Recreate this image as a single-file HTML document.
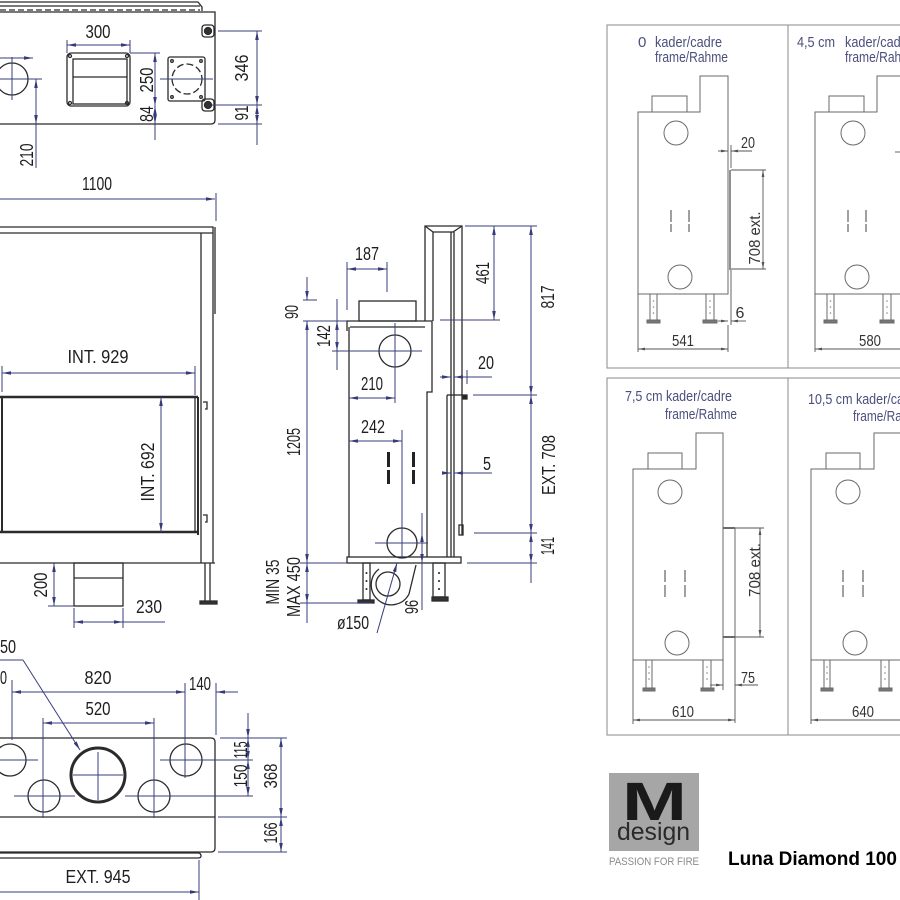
<!DOCTYPE html>
<html><head><meta charset="utf-8"><style>
html,body{margin:0;padding:0;background:#fff;}
svg{display:block;}
text{font-family:"Liberation Sans",sans-serif;}
</style></head><body>
<svg width="900" height="900" viewBox="0 0 900 900" xmlns="http://www.w3.org/2000/svg">
<defs>
<marker id="a" viewBox="0 0 10 4" refX="10" refY="2" markerWidth="9" markerHeight="3.6" markerUnits="userSpaceOnUse" orient="auto-start-reverse"><path d="M0,0L10,2L0,4z" fill="#353a7a"/></marker>
<marker id="g" viewBox="0 0 10 4" refX="10" refY="2" markerWidth="7" markerHeight="2.8" markerUnits="userSpaceOnUse" orient="auto-start-reverse"><path d="M0,0L10,2L0,4z" fill="#555"/></marker>
</defs>
<rect width="900" height="900" fill="#fff"/>

<!-- ================= TOP VIEW ================= -->
<g stroke="#2b2b2b" stroke-width="1.3" fill="none">
  <path d="M0,2 H198 L202,7 V11"/>
  <line x1="0" y1="6" x2="200" y2="6"/>
  <line x1="0" y1="10" x2="200" y2="10" stroke-dasharray="6,3"/>
  <path d="M0,12 H215 V120 Q215,124 211,124 H0"/>
  <circle cx="12" cy="79" r="16"/>
  <rect x="67" y="53" width="63" height="53" rx="4"/>
  <rect x="73" y="59" width="54" height="45"/>
  <line x1="73" y1="77" x2="127" y2="77"/>
  <circle cx="70" cy="56" r="1.5"/><circle cx="127" cy="56" r="1.5"/><circle cx="70" cy="103" r="1.5"/><circle cx="127" cy="103" r="1.5"/>
  <rect x="168" y="57" width="37" height="44" rx="2"/>
  <circle cx="187" cy="79" r="15" stroke-dasharray="7,3"/>
  <circle cx="172" cy="61" r="1.3"/><circle cx="201" cy="61" r="1.3"/><circle cx="172" cy="97" r="1.3"/><circle cx="201" cy="97" r="1.3"/>
  <rect x="202" y="25" width="12" height="12" rx="3"/>
  <circle cx="208" cy="31" r="3.5" fill="#333"/>
  <rect x="202" y="99" width="12" height="12" rx="3"/>
  <circle cx="208" cy="105" r="3.5" fill="#333"/>
</g>
<g stroke="#3a3e7c" stroke-width="1" fill="none">
  <line x1="0" y1="79" x2="42" y2="79"/>
  <line x1="12" y1="57" x2="12" y2="100"/>
  <line x1="0" y1="58" x2="33" y2="58" marker-end="url(#a)"/>
  <line x1="36" y1="79" x2="36" y2="124" marker-start="url(#a)" marker-end="url(#a)"/>
  <line x1="36" y1="124" x2="36" y2="168"/>
  <line x1="67" y1="45" x2="130" y2="45" marker-start="url(#a)" marker-end="url(#a)"/>
  <line x1="67" y1="40" x2="67" y2="53"/><line x1="130" y1="40" x2="130" y2="53"/>
  <line x1="130" y1="53" x2="160" y2="53"/>
  <line x1="155" y1="53" x2="155" y2="106" marker-start="url(#a)" marker-end="url(#a)"/>
  <line x1="155" y1="106" x2="155" y2="124" marker-start="url(#a)" marker-end="url(#a)"/>
  <line x1="155" y1="124" x2="155" y2="140"/>
  <line x1="160" y1="79" x2="213" y2="79"/>
  <line x1="218" y1="31" x2="262" y2="31"/><line x1="212" y1="105" x2="262" y2="105"/><line x1="218" y1="124" x2="262" y2="124"/>
  <line x1="257" y1="31" x2="257" y2="105" marker-start="url(#a)" marker-end="url(#a)"/>
  <line x1="257" y1="105" x2="257" y2="124" marker-start="url(#a)" marker-end="url(#a)"/>
  <line x1="257" y1="124" x2="257" y2="145"/>
</g>

<!-- ================= FRONT VIEW ================= -->
<g stroke="#2b2b2b" stroke-width="1.3" fill="none">
  <path d="M0,227 H213 V233 H0"/>
  <line x1="215" y1="227" x2="215" y2="314"/>
  <line x1="213" y1="233" x2="213" y2="563"/>
  <line x1="201" y1="233" x2="201" y2="563"/>
  <line x1="0" y1="397" x2="198" y2="397" stroke-width="2.5"/>
  <line x1="0" y1="532" x2="198" y2="532" stroke-width="2.5"/>
  <line x1="2" y1="397" x2="2" y2="532" stroke-width="2"/>
  <line x1="195" y1="397" x2="195" y2="532"/>
  <line x1="198" y1="397" x2="198" y2="535" stroke-width="2"/>
  <path d="M203,402 H207 V409 H205"/>
  <path d="M203,515 H207 V522 H205"/>
  <line x1="0" y1="563" x2="215" y2="563"/>
  <line x1="205" y1="563" x2="205" y2="601"/><line x1="210" y1="563" x2="210" y2="601"/>
  <rect x="200" y="601" width="17" height="3" fill="#333"/>
  <rect x="74" y="563" width="49" height="43"/>
  <line x1="74" y1="578" x2="123" y2="578"/>
</g>
<g stroke="#3a3e7c" stroke-width="1" fill="none">
  <line x1="0" y1="199" x2="215" y2="199" marker-end="url(#a)"/>
  <line x1="216" y1="193" x2="216" y2="221"/>
  <line x1="2" y1="373" x2="195" y2="373" marker-start="url(#a)" marker-end="url(#a)"/>
  <line x1="2" y1="366" x2="2" y2="392"/><line x1="195" y1="366" x2="195" y2="395"/>
  <line x1="161" y1="397" x2="161" y2="532" marker-start="url(#a)" marker-end="url(#a)"/>
  <line x1="54" y1="563" x2="54" y2="606" marker-start="url(#a)" marker-end="url(#a)"/>
  <line x1="48" y1="606" x2="74" y2="606"/>
  <line x1="74" y1="622" x2="123" y2="622" marker-start="url(#a)" marker-end="url(#a)"/>
  <line x1="123" y1="622" x2="165" y2="622"/>
  <line x1="74" y1="608" x2="74" y2="628"/><line x1="123" y1="608" x2="123" y2="628"/>
</g>

<!-- ================= SIDE VIEW ================= -->
<g stroke="#2b2b2b" stroke-width="1.3" fill="none">
  <path d="M425,321 V226 H462 V395"/>
  <path d="M425,226 L433,232 H453 L462,226"/>
  <line x1="433" y1="232" x2="433" y2="321"/>
  <line x1="451" y1="232" x2="451" y2="557"/>
  <line x1="454" y1="232" x2="454" y2="557"/>
  <line x1="447" y1="395" x2="447" y2="557"/>
  <line x1="447" y1="395" x2="462" y2="395"/>
  <line x1="462" y1="395" x2="462" y2="535"/>
  <rect x="459" y="525" width="4" height="10"/>
  <rect x="463" y="395" width="4" height="4" fill="#222"/>
  <path d="M347,331 V321 H432 V392 H427 V557"/>
  <line x1="350" y1="327" x2="425" y2="327"/>
  <line x1="349" y1="327" x2="349" y2="557"/>
  <rect x="359" y="301" width="57" height="20"/>
  <circle cx="395" cy="351" r="16"/>
  <circle cx="402" cy="543" r="15"/>
  <rect x="347" y="557" width="114" height="6"/>
  <rect x="363" y="563" width="7" height="37"/>
  <rect x="358" y="600" width="16" height="3" fill="#333"/>
  <rect x="433" y="563" width="12" height="34"/>
  <rect x="432" y="597" width="16" height="4" fill="#333"/>
  <circle cx="388" cy="584" r="12"/>
  <path d="M379,569 A20,20 0 1,0 409,594 L416,565"/>
</g>
<g fill="#222">
  <rect x="387" y="452" width="3" height="15"/><rect x="387" y="470" width="3" height="14"/>
  <rect x="412" y="452" width="3" height="15"/><rect x="412" y="470" width="3" height="14"/>
  <circle cx="366.5" cy="573" r="1"/><circle cx="366.5" cy="581" r="1"/><circle cx="366.5" cy="589" r="1"/>
  <circle cx="439" cy="573" r="1"/><circle cx="439" cy="581" r="1"/><circle cx="439" cy="589" r="1"/>
</g>
<g stroke="#3a3e7c" stroke-width="1" fill="none">
  <line x1="332" y1="351" x2="422" y2="351"/>
  <line x1="395" y1="323" x2="395" y2="403"/>
  <line x1="375" y1="543" x2="428" y2="543"/>
  <line x1="402" y1="430" x2="402" y2="558"/>
  <line x1="347" y1="269" x2="387" y2="269" marker-start="url(#a)" marker-end="url(#a)"/>
  <line x1="347" y1="262" x2="347" y2="310"/><line x1="387" y1="262" x2="387" y2="292"/>
  <line x1="307" y1="277" x2="307" y2="300" marker-end="url(#a)"/>
  <line x1="303" y1="300" x2="317" y2="300"/><line x1="303" y1="321" x2="347" y2="321"/>
  <line x1="307" y1="321" x2="307" y2="563" marker-start="url(#a)" marker-end="url(#a)"/>
  <line x1="307" y1="563" x2="307" y2="603" marker-start="url(#a)" marker-end="url(#a)"/>
  <line x1="307" y1="603" x2="307" y2="623"/>
  <line x1="300" y1="603" x2="372" y2="603"/><line x1="300" y1="563" x2="347" y2="563"/>
  <line x1="337" y1="299" x2="337" y2="370"/>
  <line x1="337" y1="321" x2="337" y2="351" marker-start="url(#a)" marker-end="url(#a)"/>
  <line x1="349" y1="398" x2="395" y2="398" marker-start="url(#a)" marker-end="url(#a)"/>
  <line x1="494" y1="226" x2="494" y2="320" marker-start="url(#a)" marker-end="url(#a)"/>
  <line x1="465" y1="226" x2="537" y2="226"/><line x1="440" y1="320" x2="500" y2="320"/>
  <line x1="531" y1="226" x2="531" y2="395" marker-start="url(#a)" marker-end="url(#a)"/>
  <line x1="473" y1="395" x2="537" y2="395"/>
  <line x1="531" y1="395" x2="531" y2="533" marker-start="url(#a)" marker-end="url(#a)"/>
  <line x1="531" y1="533" x2="531" y2="563" marker-start="url(#a)" marker-end="url(#a)"/>
  <line x1="531" y1="563" x2="531" y2="583"/>
  <line x1="474" y1="533" x2="537" y2="533"/><line x1="467" y1="563" x2="537" y2="563"/>
  <line x1="440" y1="377" x2="451" y2="377" marker-end="url(#a)"/>
  <line x1="467" y1="377" x2="454" y2="377" marker-end="url(#a)"/>
  <line x1="467" y1="377" x2="492" y2="377"/>
  <line x1="467" y1="370" x2="467" y2="384"/>
  <line x1="349" y1="441" x2="402" y2="441" marker-start="url(#a)" marker-end="url(#a)"/>
  <line x1="442" y1="473" x2="451" y2="473" marker-end="url(#a)"/>
  <line x1="492" y1="473" x2="454" y2="473" marker-end="url(#a)"/>
  <line x1="422" y1="513" x2="422" y2="610"/>
  <line x1="422" y1="533" x2="422" y2="563" marker-start="url(#a)" marker-end="url(#a)"/>
  <line x1="377" y1="633" x2="397" y2="563" marker-end="url(#a)"/>
</g>

<!-- ================= BOTTOM VIEW ================= -->
<g stroke="#2b2b2b" stroke-width="1.3" fill="none">
  <path d="M0,738 H211 Q215,738 215,742 V848 Q215,852 211,852 H0"/>
  <line x1="0" y1="817" x2="215" y2="817"/>
  <path d="M0,853 H198 Q201,853 201,856 Q201,858 198,858 H0"/>
  <circle cx="10" cy="760" r="16"/>
  <circle cx="44" cy="796" r="16"/>
  <circle cx="98" cy="775" r="27" stroke-width="3"/>
  <circle cx="154" cy="796" r="16"/>
  <circle cx="186" cy="760" r="16"/>
</g>
<g stroke="#3a3e7c" stroke-width="1" fill="none">
  <line x1="0" y1="760" x2="38" y2="760"/><line x1="160" y1="760" x2="253" y2="760"/>
  <line x1="14" y1="796" x2="75" y2="796"/><line x1="125" y1="796" x2="253" y2="796"/>
  <line x1="73" y1="775" x2="123" y2="775"/><line x1="98" y1="752" x2="98" y2="800"/>
  <line x1="43" y1="718" x2="43" y2="818"/><line x1="154" y1="718" x2="154" y2="818"/>
  <line x1="12" y1="680" x2="12" y2="740"/><line x1="185" y1="683" x2="185" y2="778"/>
  <line x1="216" y1="683" x2="216" y2="735"/>
  <line x1="23" y1="660" x2="80" y2="750" marker-end="url(#a)"/>
  <line x1="0" y1="660" x2="23" y2="660"/>
  <line x1="12" y1="692" x2="185" y2="692" marker-start="url(#a)" marker-end="url(#a)"/>
  <line x1="238" y1="692" x2="216" y2="692" marker-end="url(#a)"/>
  <line x1="43" y1="723" x2="154" y2="723" marker-start="url(#a)" marker-end="url(#a)"/>
  <line x1="248" y1="713" x2="248" y2="738" marker-end="url(#a)"/>
  <line x1="248" y1="738" x2="248" y2="760" marker-start="url(#a)" marker-end="url(#a)"/>
  <line x1="248" y1="760" x2="248" y2="796" marker-start="url(#a)" marker-end="url(#a)"/>
  <line x1="281" y1="738" x2="281" y2="817" marker-start="url(#a)" marker-end="url(#a)"/>
  <line x1="281" y1="817" x2="281" y2="852" marker-start="url(#a)" marker-end="url(#a)"/>
  <line x1="220" y1="738" x2="287" y2="738"/><line x1="218" y1="817" x2="287" y2="817"/><line x1="218" y1="852" x2="287" y2="852"/>
  <line x1="0" y1="892" x2="199" y2="892" marker-end="url(#a)"/>
  <line x1="199" y1="860" x2="199" y2="900"/>
</g>

<!-- ================= DIMENSION TEXT ================= -->
<g font-size="18" fill="#1e1e1e" text-anchor="middle">
  <text x="98" y="38" textLength="25" lengthAdjust="spacingAndGlyphs">300</text>
  <text x="97" y="190" textLength="30" lengthAdjust="spacingAndGlyphs">1100</text>
  <text x="98" y="363" textLength="61" lengthAdjust="spacingAndGlyphs">INT.  929</text>
  <text x="149" y="613" textLength="26" lengthAdjust="spacingAndGlyphs">230</text>
  <text x="367" y="260" textLength="24" lengthAdjust="spacingAndGlyphs">187</text>
  <text x="372" y="390" textLength="22" lengthAdjust="spacingAndGlyphs">210</text>
  <text x="486" y="369" textLength="16" lengthAdjust="spacingAndGlyphs">20</text>
  <text x="373" y="433" textLength="24" lengthAdjust="spacingAndGlyphs">242</text>
  <text x="487" y="470" textLength="8" lengthAdjust="spacingAndGlyphs">5</text>
  <text x="353" y="629" textLength="32" lengthAdjust="spacingAndGlyphs">ø150</text>
  <text x="98" y="684" textLength="27" lengthAdjust="spacingAndGlyphs">820</text>
  <text x="200" y="690" textLength="22" lengthAdjust="spacingAndGlyphs">140</text>
  <text x="98" y="715" textLength="25" lengthAdjust="spacingAndGlyphs">520</text>
  <text x="98" y="883" textLength="65" lengthAdjust="spacingAndGlyphs">EXT.  945</text>
  <text x="0" y="653" text-anchor="start" textLength="16" lengthAdjust="spacingAndGlyphs">50</text>
  <text x="0" y="684" text-anchor="start" textLength="7" lengthAdjust="spacingAndGlyphs">0</text>

  <text transform="translate(153,80) rotate(-90)" textLength="25" lengthAdjust="spacingAndGlyphs">250</text>
  <text transform="translate(153,114) rotate(-90)" textLength="16" lengthAdjust="spacingAndGlyphs">84</text>
  <text transform="translate(248,68) rotate(-90)" textLength="27" lengthAdjust="spacingAndGlyphs">346</text>
  <text transform="translate(248,113) rotate(-90)" textLength="15" lengthAdjust="spacingAndGlyphs">91</text>
  <text transform="translate(33,155) rotate(-90)" textLength="23" lengthAdjust="spacingAndGlyphs">210</text>
  <text transform="translate(154,472) rotate(-90)" textLength="59" lengthAdjust="spacingAndGlyphs">INT. 692</text>
  <text transform="translate(47,585) rotate(-90)" textLength="25" lengthAdjust="spacingAndGlyphs">200</text>
  <text transform="translate(298,312) rotate(-90)" textLength="14" lengthAdjust="spacingAndGlyphs">90</text>
  <text transform="translate(330,336) rotate(-90)" textLength="22" lengthAdjust="spacingAndGlyphs">142</text>
  <text transform="translate(489,273) rotate(-90)" textLength="22" lengthAdjust="spacingAndGlyphs">461</text>
  <text transform="translate(554,297) rotate(-90)" textLength="23" lengthAdjust="spacingAndGlyphs">817</text>
  <text transform="translate(300,442) rotate(-90)" textLength="28" lengthAdjust="spacingAndGlyphs">1205</text>
  <text transform="translate(555,465) rotate(-90)" textLength="60" lengthAdjust="spacingAndGlyphs">EXT. 708</text>
  <text transform="translate(554,546) rotate(-90)" textLength="18" lengthAdjust="spacingAndGlyphs">141</text>
  <text transform="translate(279,582) rotate(-90)" textLength="45" lengthAdjust="spacingAndGlyphs">MIN 35</text>
  <text transform="translate(300,587) rotate(-90)" textLength="60" lengthAdjust="spacingAndGlyphs">MAX 450</text>
  <text transform="translate(418,607) rotate(-90)" textLength="14" lengthAdjust="spacingAndGlyphs">96</text>
  <text transform="translate(247,750) rotate(-90)" textLength="17" lengthAdjust="spacingAndGlyphs">115</text>
  <text transform="translate(247,776) rotate(-90)" textLength="23" lengthAdjust="spacingAndGlyphs">150</text>
  <text transform="translate(277,776) rotate(-90)" textLength="25" lengthAdjust="spacingAndGlyphs">368</text>
  <text transform="translate(277,833) rotate(-90)" textLength="21" lengthAdjust="spacingAndGlyphs">166</text>
</g>

<!-- ================= RIGHT PANELS ================= -->
<g stroke="#8a8a8a" stroke-width="1" fill="none">
  <rect x="607" y="25" width="310" height="343"/>
  <line x1="788" y1="25" x2="788" y2="368"/>
  <rect x="607" y="378" width="310" height="357"/>
  <line x1="788" y1="378" x2="788" y2="735"/>
</g>

<!-- panel 1 drawing -->
<g id="p1">
<g stroke="#6a6a6a" stroke-width="1" fill="none">
  <path d="M638,112 H700 V76 H728 V294 H638 Z"/>
  <rect x="652" y="96" width="35" height="16"/>
  <circle cx="676" cy="133" r="12"/>
  <circle cx="680" cy="277" r="12"/>
  <line x1="730" y1="170" x2="730" y2="270" stroke-width="1.5"/>
  <rect x="650" y="294" width="7" height="26"/>
  <rect x="706" y="294" width="8" height="26"/>
  <rect x="647" y="320" width="13" height="3" fill="#777"/>
  <rect x="703" y="320" width="14" height="3" fill="#777"/>
</g>
<g stroke="#888" stroke-width="1.6">
  <line x1="671" y1="210" x2="671" y2="222"/><line x1="671" y1="224" x2="671" y2="232"/>
  <line x1="689" y1="210" x2="689" y2="222"/><line x1="689" y1="224" x2="689" y2="232"/>
</g>
<g fill="#888">
  <circle cx="653.5" cy="301" r="0.8"/><circle cx="653.5" cy="307" r="0.8"/><circle cx="653.5" cy="313" r="0.8"/>
  <circle cx="710" cy="301" r="0.8"/><circle cx="710" cy="307" r="0.8"/><circle cx="710" cy="313" r="0.8"/>
</g>
</g>
<use href="#p1" transform="translate(177,0)"/>
<g stroke="#555" stroke-width="0.9" fill="none">
  <line x1="731" y1="170" x2="766" y2="170"/><line x1="731" y1="269" x2="766" y2="269"/>
  <line x1="763" y1="170" x2="763" y2="269" marker-start="url(#g)" marker-end="url(#g)"/>
  <line x1="718" y1="151" x2="728" y2="151" marker-end="url(#g)"/>
  <line x1="752" y1="151" x2="731" y2="151" marker-end="url(#g)"/>
  <line x1="731" y1="145" x2="731" y2="168"/>
  <line x1="718" y1="321" x2="728" y2="321" marker-end="url(#g)"/>
  <line x1="746" y1="321" x2="731" y2="321" marker-end="url(#g)"/>
  <line x1="731" y1="270" x2="731" y2="325"/>
  <line x1="638" y1="349" x2="728" y2="349" marker-start="url(#g)" marker-end="url(#g)"/>
  <line x1="638" y1="294" x2="638" y2="352"/><line x1="728" y1="325" x2="728" y2="352"/>
  <line x1="815" y1="349" x2="905" y2="349" marker-start="url(#g)"/>
  <line x1="815" y1="294" x2="815" y2="352"/>
  <line x1="895" y1="152" x2="900" y2="152"/>
</g>

<!-- panel 3 drawing -->
<g id="p3">
<g stroke="#6a6a6a" stroke-width="1" fill="none">
  <path d="M633,469 H696 V433 H723 V660 H633 Z"/>
  <rect x="648" y="453" width="34" height="16"/>
  <circle cx="670" cy="492" r="12"/>
  <circle cx="677" cy="643" r="12"/>
  <line x1="735" y1="528" x2="735" y2="637"/>
  <line x1="723" y1="528" x2="735" y2="528" stroke-width="2"/>
  <line x1="723" y1="637" x2="735" y2="637" stroke-width="2"/>
  <rect x="646" y="660" width="6" height="28"/>
  <rect x="703" y="660" width="8" height="28"/>
  <rect x="643" y="688" width="12" height="3" fill="#777"/>
  <rect x="701" y="688" width="13" height="3" fill="#777"/>
</g>
<g stroke="#888" stroke-width="1.6">
  <line x1="665" y1="570" x2="665" y2="582"/><line x1="665" y1="585" x2="665" y2="597"/>
  <line x1="685" y1="570" x2="685" y2="582"/><line x1="685" y1="585" x2="685" y2="597"/>
</g>
<g fill="#888">
  <circle cx="649" cy="667" r="0.8"/><circle cx="649" cy="673" r="0.8"/><circle cx="649" cy="679" r="0.8"/>
  <circle cx="707" cy="667" r="0.8"/><circle cx="707" cy="673" r="0.8"/><circle cx="707" cy="679" r="0.8"/>
</g>
</g>
<use href="#p3" transform="translate(178,0)"/>
<g stroke="#555" stroke-width="0.9" fill="none">
  <line x1="735" y1="528" x2="764" y2="528"/><line x1="735" y1="637" x2="764" y2="637"/>
  <line x1="760" y1="528" x2="760" y2="637" marker-start="url(#g)" marker-end="url(#g)"/>
  <line x1="710" y1="685" x2="723" y2="685" marker-end="url(#g)"/>
  <line x1="758" y1="685" x2="735" y2="685" marker-end="url(#g)"/>
  <line x1="735" y1="637" x2="735" y2="723"/>
  <line x1="723" y1="660" x2="723" y2="690"/>
  <line x1="633" y1="720" x2="735" y2="720" marker-start="url(#g)" marker-end="url(#g)"/>
  <line x1="633" y1="660" x2="633" y2="724"/>
  <line x1="811" y1="720" x2="913" y2="720" marker-start="url(#g)"/>
  <line x1="811" y1="660" x2="811" y2="724"/>
</g>

<!-- panel texts -->
<g font-size="15" fill="#4b4f7c">
  <text x="638" y="47">0</text>
  <text x="655" y="47" textLength="67" lengthAdjust="spacingAndGlyphs">kader/cadre</text>
  <text x="655" y="62" textLength="73" lengthAdjust="spacingAndGlyphs">frame/Rahme</text>
  <text x="797" y="47" textLength="38" lengthAdjust="spacingAndGlyphs">4,5 cm</text>
  <text x="845" y="47" textLength="67" lengthAdjust="spacingAndGlyphs">kader/cadre</text>
  <text x="845" y="62" textLength="73" lengthAdjust="spacingAndGlyphs">frame/Rahme</text>
  <text x="625" y="401" textLength="107" lengthAdjust="spacingAndGlyphs">7,5 cm kader/cadre</text>
  <text x="665" y="419" textLength="72" lengthAdjust="spacingAndGlyphs">frame/Rahme</text>
  <text x="808" y="404" textLength="114" lengthAdjust="spacingAndGlyphs">10,5 cm kader/cadre</text>
  <text x="853" y="421" textLength="72" lengthAdjust="spacingAndGlyphs">frame/Rahme</text>
</g>
<g font-size="16" fill="#333" text-anchor="middle">
  <text x="748" y="148" textLength="14" lengthAdjust="spacingAndGlyphs">20</text>
  <text x="740" y="318">6</text>
  <text x="683" y="346" textLength="22" lengthAdjust="spacingAndGlyphs">541</text>
  <text x="870" y="346" textLength="22" lengthAdjust="spacingAndGlyphs">580</text>
  <text transform="translate(760,238) rotate(-90)" textLength="53" lengthAdjust="spacingAndGlyphs">708 ext.</text>
  <text transform="translate(760,570) rotate(-90)" textLength="54" lengthAdjust="spacingAndGlyphs">708 ext.</text>
  <text x="748" y="683" textLength="14" lengthAdjust="spacingAndGlyphs">75</text>
  <text x="683" y="717" textLength="22" lengthAdjust="spacingAndGlyphs">610</text>
  <text x="863" y="717" textLength="22" lengthAdjust="spacingAndGlyphs">640</text>
</g>

<!-- ================= LOGO ================= -->
<rect x="609" y="773" width="90" height="78" fill="#a6a6a6"/>
<text x="654.5" y="820" font-size="54" font-weight="bold" fill="#1a1a1a" text-anchor="middle" textLength="65" lengthAdjust="spacingAndGlyphs">M</text>
<text x="617" y="840" font-size="25" fill="#2a2a2a" textLength="73" lengthAdjust="spacingAndGlyphs">design</text>
<text x="609" y="865" font-size="11" fill="#8a8a8a" textLength="90" lengthAdjust="spacingAndGlyphs">PASSION FOR FIRE</text>
<text x="728" y="865" font-size="19" font-weight="bold" fill="#000">Luna Diamond 100</text>
</svg>
</body></html>
